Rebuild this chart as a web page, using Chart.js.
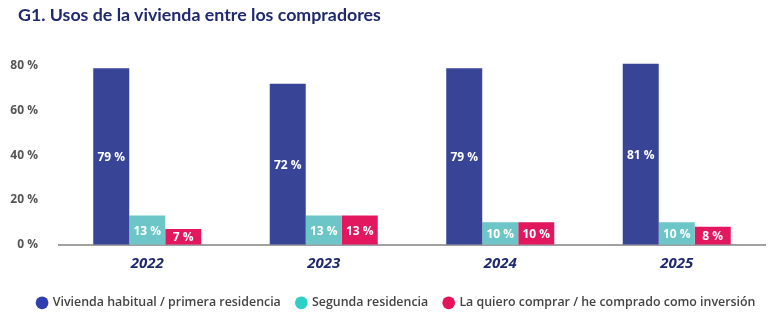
<!DOCTYPE html>
<html><head><meta charset="utf-8">
<script src="https://cdn.jsdelivr.net/npm/chart.js@4"></script>
<style>html,body{margin:0;padding:0;background:#fff}#wrap{position:relative;width:775px;height:325px}
#t{position:absolute;left:18px;top:3px;margin:0;font:bold 17.8px/22px Lato,sans-serif;color:#1f2a6e;white-space:nowrap}
canvas{position:absolute;left:0;top:0}</style>
</head><body><div id="wrap"><canvas id="c" width="775" height="325"></canvas><h1 id="t"></h1></div>
<script>
const title = 'G1. Usos de la vivienda entre los compradores';
const categories = ['2022','2023','2024','2025'];
const seriesNames = ['Vivienda habitual / primera residencia','Segunda residencia','La quiero comprar / he comprado como inversión'];
const habitual = [79,72,79,81];
const segunda = [13,13,10,10];
const inversion = [7,13,10,8];
const yTicks = [0,20,40,60,80];
const barColors = ['#384596','#6cc5c6','#e3175e'];
const dotColors = ['#2e3db0','#2dd0c6','#e5135b'];

document.getElementById('t').textContent = title;

const labelPlugin = {
  id:'vals',
  afterDatasetsDraw(chart){
    const ctx = chart.ctx;
    ctx.save();
    ctx.fillStyle = '#fff';
    ctx.font = 'bold 12px "Open Sans"';
    ctx.textAlign = 'center';
    ctx.textBaseline = 'middle';
    chart.data.datasets.forEach((ds,i)=>{
      chart.getDatasetMeta(i).data.forEach((bar,j)=>{
        const y = (bar.y + bar.base)/2;
        ctx.fillText(ds.data[j] + ' %', bar.x, y+1);
      });
    });
    ctx.restore();
  }
};
const legendShift = {
  id:'legendShift',
  afterLayout(chart){
    if (chart.legend){ chart.legend.left += 14; chart.legend.right += 14; }
  }
};

new Chart(document.getElementById('c'), {
  type:'bar',
  data:{
    labels: categories,
    datasets:[
      {label:seriesNames[0], data:habitual, backgroundColor:barColors[0], clip:false},
      {label:seriesNames[1], data:segunda, backgroundColor:barColors[1], clip:false},
      {label:seriesNames[2], data:inversion, backgroundColor:barColors[2], clip:false}
    ]
  },
  options:{
    responsive:false,
    animation:false,
    layout:{padding:{left:0,right:10,top:66,bottom:6}},
    datasets:{bar:{barPercentage:1,categoryPercentage:0.612}},
    plugins:{
      title:{display:false},
      legend:{position:'bottom',
        labels:{usePointStyle:true,pointStyle:'circle',boxWidth:9,boxHeight:9,padding:16,
          color:'#444',font:{family:'Open Sans',size:12.4,weight:'600'},
          generateLabels(chart){
            return chart.data.datasets.map((ds,i)=>({text:ds.label,fillStyle:dotColors[i],strokeStyle:dotColors[i],lineWidth:0,pointStyle:'circle',datasetIndex:i,fontColor:'#444'}));
          }}},
      tooltip:{enabled:false}
    },
    scales:{
      x:{grid:{display:false},border:{display:true,color:'#a0a0a0',width:2},
        afterFit(s){s.height += 6;},
        ticks:{color:'#1f2a6e',font:{family:'Open Sans',size:15,weight:'bold',style:'italic'},padding:2}},
      y:{min:0,max:80,grid:{display:false},border:{display:false},
        afterFit(s){s.width = 59;},
        afterBuildTicks(s){s.ticks = yTicks.map(v=>({value:v}));},
        ticks:{color:'#555',padding:13,font:{family:'Open Sans',size:12,weight:'bold'},callback:v=>v+' %'}}
    }
  },
  plugins:[labelPlugin, legendShift]
});
</script></body></html>
